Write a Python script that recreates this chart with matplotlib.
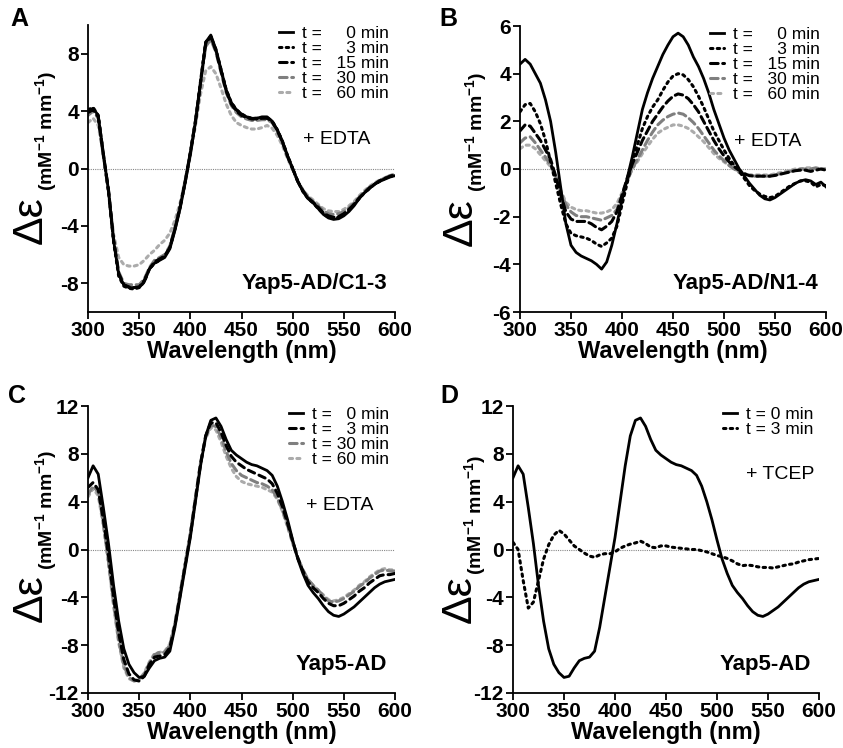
import numpy as np
import matplotlib
matplotlib.use("Agg")
import matplotlib.pyplot as plt

plt.rcParams['font.family'] = ['Liberation Sans', 'DejaVu Sans']
plt.rcParams['axes.unicode_minus'] = False
plt.rcParams['mathtext.fontset'] = 'custom'
plt.rcParams['mathtext.rm'] = 'Liberation Sans'
plt.rcParams['mathtext.bf'] = 'Liberation Sans:bold'

# wavelength grid (nm), 5 nm steps
wl = np.arange(300, 601, 5)

# Panel A: Yap5-AD/C1-3 + EDTA
a_t0 = [4.0, 4.2, 3.7, 1.0, -1.5, -5.0, -7.4, -8.1, -8.3, -8.3,
        -8.3, -7.9, -7.0, -6.6, -6.4, -6.2, -5.6, -4.3, -2.8, -1.0,
        1.0, 3.2, 6.0, 8.8, 9.3, 8.3, 6.9, 5.5, 4.6, 4.1,
        3.8, 3.6, 3.5, 3.5, 3.6, 3.6, 3.3, 2.7, 1.9, 0.9,
        0.0, -0.9, -1.6, -2.1, -2.4, -2.8, -3.2, -3.45, -3.55, -3.5,
        -3.3, -3.0, -2.6, -2.1, -1.7, -1.4, -1.1, -0.9, -0.75, -0.6, -0.5]
a_t3 = [4.1, 4.25, 3.7, 1.0, -1.6, -5.1, -7.5, -8.2, -8.35, -8.4,
        -8.3, -7.9, -7.0, -6.6, -6.4, -6.1, -5.5, -4.2, -2.7, -0.9,
        1.1, 3.3, 6.1, 8.8, 9.2, 8.3, 6.9, 5.5, 4.6, 4.1,
        3.8, 3.6, 3.5, 3.5, 3.55, 3.55, 3.3, 2.7, 1.9, 0.9,
        0.0, -0.9, -1.6, -2.1, -2.4, -2.8, -3.15, -3.4, -3.45, -3.4,
        -3.2, -2.9, -2.5, -2.1, -1.7, -1.4, -1.1, -0.9, -0.7, -0.55, -0.45]
a_t15 = [3.9, 4.1, 3.6, 1.0, -1.5, -5.0, -7.3, -8.1, -8.25, -8.3,
         -8.25, -7.8, -7.0, -6.5, -6.3, -6.1, -5.5, -4.2, -2.7, -0.9,
         1.1, 3.3, 6.0, 8.7, 9.2, 8.2, 6.8, 5.4, 4.5, 4.0,
         3.7, 3.55, 3.45, 3.45, 3.5, 3.5, 3.25, 2.65, 1.85, 0.85,
         0.0, -0.9, -1.55, -2.05, -2.35, -2.7, -3.1, -3.3, -3.4, -3.35,
         -3.15, -2.85, -2.5, -2.05, -1.7, -1.35, -1.1, -0.85, -0.7, -0.55, -0.45]
a_t30 = [3.7, 4.0, 3.5, 0.9, -1.5, -4.9, -7.2, -8.0, -8.1, -8.1,
         -8.1, -7.7, -6.9, -6.4, -6.2, -6.0, -5.4, -4.1, -2.6, -0.8,
         1.1, 3.3, 5.9, 8.5, 9.0, 8.1, 6.7, 5.3, 4.4, 3.9,
         3.6, 3.45, 3.35, 3.35, 3.4, 3.4, 3.2, 2.6, 1.8, 0.8,
         -0.05, -0.9, -1.5, -2.0, -2.3, -2.6, -2.95, -3.15, -3.2, -3.15,
         -3.0, -2.75, -2.4, -2.0, -1.65, -1.3, -1.05, -0.85, -0.65, -0.5, -0.4]
a_t60 = [3.2, 3.5, 3.0, 0.9, -1.6, -4.6, -6.2, -6.7, -6.8, -6.8,
         -6.7, -6.4, -6.0, -5.7, -5.3, -5.0, -4.5, -3.6, -2.4, -0.9,
         0.9, 3.0, 5.2, 6.8, 7.1, 6.6, 5.6, 4.5, 3.7, 3.2,
         3.0, 2.85, 2.75, 2.75, 2.85, 3.0, 2.8, 2.3, 1.6, 0.7,
         -0.1, -0.9, -1.5, -1.9, -2.2, -2.5, -2.8, -2.95, -3.0, -3.0,
         -2.85, -2.6, -2.3, -1.9, -1.55, -1.25, -1.0, -0.8, -0.65, -0.5, -0.4]

# Panel B: Yap5-AD/N1-4 + EDTA
b_t0 = [4.4, 4.6, 4.4, 4.0, 3.6, 2.9, 2.0, 0.7, -0.8, -2.3,
        -3.2, -3.5, -3.65, -3.75, -3.85, -4.0, -4.2, -3.9, -3.2, -2.3,
        -1.3, -0.4, 0.5, 1.5, 2.5, 3.2, 3.8, 4.3, 4.8, 5.2,
        5.55, 5.7, 5.55, 5.2, 4.7, 4.3, 3.8, 3.2, 2.5, 1.9,
        1.3, 0.8, 0.4, 0.0, -0.3, -0.6, -0.85, -1.1, -1.25, -1.3,
        -1.2, -1.05, -0.9, -0.75, -0.6, -0.5, -0.45, -0.5, -0.65, -0.55, -0.75]
b_t3 = [2.4, 2.7, 2.75, 2.4, 1.9, 1.2, 0.3, -0.6, -1.5, -2.3,
        -2.7, -2.8, -2.85, -2.9, -3.0, -3.15, -3.25, -3.1, -2.9, -2.4,
        -1.5, -0.6, 0.3, 1.0, 1.7, 2.2, 2.6, 2.9, 3.3, 3.65,
        3.9, 4.0, 3.95, 3.75, 3.45, 3.05, 2.6, 2.1, 1.6, 1.2,
        0.8, 0.45, 0.15, -0.1, -0.4, -0.7, -0.9, -1.05, -1.15, -1.2,
        -1.15, -1.0, -0.85, -0.7, -0.6, -0.5, -0.5, -0.55, -0.75, -0.65, -0.7]
b_t15 = [1.6, 1.85, 1.8, 1.5, 1.2, 0.8, 0.4, -0.3, -1.1, -1.8,
         -2.1, -2.2, -2.2, -2.2, -2.3, -2.45, -2.55, -2.4, -2.2, -1.8,
         -1.1, -0.4, 0.2, 0.7, 1.2, 1.6, 2.0, 2.3, 2.6, 2.85,
         3.05, 3.15, 3.1, 2.95, 2.7, 2.4, 2.0, 1.6, 1.2, 0.85,
         0.55, 0.3, 0.1, -0.05, -0.2, -0.28, -0.3, -0.3, -0.3, -0.3,
         -0.27, -0.22, -0.17, -0.12, -0.07, -0.05, -0.05, -0.1, -0.05, 0.0, -0.05]
b_t30 = [1.1, 1.3, 1.35, 1.1, 0.8, 0.5, 0.15, -0.3, -1.0, -1.5,
         -1.8, -1.95, -2.0, -2.0, -2.05, -2.1, -2.15, -2.05, -1.95, -1.7,
         -1.1, -0.5, 0.0, 0.4, 0.8, 1.2, 1.55, 1.85, 2.05, 2.2,
         2.3, 2.35, 2.3, 2.15, 1.95, 1.7, 1.4, 1.1, 0.8, 0.55,
         0.35, 0.15, 0.0, -0.15, -0.2, -0.25, -0.3, -0.3, -0.3, -0.3,
         -0.25, -0.2, -0.15, -0.1, -0.05, 0.0, 0.0, 0.0, 0.05, 0.0, 0.0]
b_t60 = [0.85, 1.0, 1.0, 0.85, 0.6, 0.35, 0.1, -0.3, -0.9, -1.4,
         -1.6, -1.7, -1.75, -1.75, -1.8, -1.85, -1.85, -1.8, -1.7, -1.45,
         -1.0, -0.5, 0.0, 0.3, 0.65, 0.95, 1.25, 1.5, 1.65, 1.75,
         1.85, 1.85, 1.8, 1.7, 1.55, 1.35, 1.15, 0.9, 0.65, 0.45,
         0.3, 0.15, 0.0, -0.1, -0.2, -0.25, -0.25, -0.25, -0.25, -0.25,
         -0.2, -0.15, -0.1, -0.05, 0.0, 0.0, 0.05, 0.05, 0.0, 0.0, 0.0]

# Panel C/D: Yap5-AD
c_t0 = [6.0, 7.0, 6.3, 3.5, 0.5, -3.0, -6.0, -8.3, -9.6, -10.3,
        -10.7, -10.6, -9.9, -9.3, -9.1, -9.0, -8.5, -6.5, -4.0, -1.5,
        1.0, 4.0, 7.0, 9.5, 10.8, 11.0, 10.3, 9.2, 8.3, 7.9,
        7.6, 7.3, 7.1, 7.0, 6.8, 6.6, 6.2, 5.3, 4.0, 2.5,
        0.8, -0.8, -2.0, -3.0, -3.6, -4.1, -4.7, -5.2, -5.5, -5.6,
        -5.4, -5.1, -4.8, -4.4, -4.0, -3.6, -3.2, -2.9, -2.7, -2.6, -2.5]
c_t3 = [5.2, 5.6, 5.0, 2.5, -0.5, -4.0, -7.0, -9.2, -10.4, -10.9,
        -11.0, -10.6, -9.6, -9.0, -8.9, -8.8, -8.2, -6.3, -3.8, -1.3,
        1.2, 4.2, 7.2, 9.5, 10.6, 10.6, 9.8, 8.7, 7.8, 7.3,
        7.0, 6.7, 6.5, 6.3, 6.1, 5.9, 5.5, 4.7, 3.6, 2.2,
        0.7, -0.7, -1.8, -2.7, -3.2, -3.6, -4.1, -4.5, -4.7, -4.7,
        -4.5, -4.2, -3.9, -3.5, -3.2, -2.8, -2.5, -2.2, -2.1, -2.1, -2.0]
c_t30 = [4.6, 5.3, 4.8, 2.2, -1.0, -4.5, -7.6, -9.7, -10.7, -11.0,
         -10.9, -10.4, -9.5, -8.8, -8.6, -8.6, -8.0, -6.2, -3.7, -1.2,
         1.3, 4.3, 7.2, 9.4, 10.4, 10.3, 9.4, 8.2, 7.2, 6.6,
         6.2, 6.0, 5.8, 5.6, 5.5, 5.3, 5.0, 4.3, 3.3, 2.0,
         0.6, -0.7, -1.7, -2.5, -3.0, -3.4, -3.9, -4.3, -4.4, -4.3,
         -4.1, -3.8, -3.5, -3.1, -2.8, -2.4, -2.1, -1.8, -1.7, -1.8, -1.8]
c_t60 = [4.4, 5.1, 4.5, 2.0, -1.2, -4.7, -7.8, -9.9, -10.8, -11.0,
         -10.9, -10.3, -9.4, -8.7, -8.6, -8.5, -7.9, -6.1, -3.6, -1.1,
         1.4, 4.4, 7.3, 9.3, 10.2, 10.0, 9.0, 7.8, 6.8, 6.1,
         5.7, 5.5, 5.4, 5.3, 5.2, 5.0, 4.8, 4.2, 3.2, 1.9,
         0.5, -0.7, -1.7, -2.5, -3.0, -3.4, -3.8, -4.2, -4.3, -4.2,
         -4.0, -3.7, -3.4, -3.0, -2.7, -2.3, -2.0, -1.7, -1.6, -1.7, -1.7]
d_t3 = [0.6, 0.0, -2.6, -4.9, -4.4, -2.6, -0.8, 0.4, 1.2, 1.6,
        1.3, 0.8, 0.3, 0.0, -0.3, -0.55, -0.65, -0.45, -0.35, -0.35,
        -0.2, 0.1, 0.3, 0.45, 0.55, 0.7, 0.5, 0.2, 0.15, 0.3,
        0.3, 0.2, 0.15, 0.1, 0.05, 0.0, 0.0, -0.1, -0.2, -0.35,
        -0.5, -0.6, -0.75, -0.95, -1.2, -1.35, -1.3, -1.35, -1.45, -1.5,
        -1.5, -1.55, -1.45, -1.35, -1.25, -1.2, -1.05, -0.95, -0.85, -0.8, -0.75]

# line styles per time point
styles = {
    't0': dict(color='black', lw=2.0, ls='-'),
    't3': dict(color='black', lw=2.2, ls=(0, (0.8, 1.4)), dash_capstyle='round'),
    't3d': dict(color='black', lw=2.2, ls=(0, (2.2, 1.6)), dash_capstyle='round'),
    't15': dict(color='black', lw=2.2, ls=(0, (2.5, 1.5)), dash_capstyle='round'),
    't30': dict(color='#7f7f7f', lw=2.2, ls=(0, (2.5, 1.5)), dash_capstyle='round'),
    't60': dict(color='#ababab', lw=2.2, ls=(0, (1.0, 1.4)), dash_capstyle='round'),
}

W, H = 843, 748
fig = plt.figure(figsize=(W / 100, H / 100), dpi=100)


def px_box(x0, y0, x1, y1):
    return [x0 / W, 1 - y1 / H, (x1 - x0) / W, (y1 - y0) / H]


def panel(box, series, ylim, yticks, note, note_xy, name, letter, letter_xy, dl_xy, unit_xy):
    ax = fig.add_axes(px_box(*box))
    for y, key, label in series[::-1]:
        ax.plot(wl, y, label=label, **styles[key])
    ax.axhline(0, color='#888888', lw=0.8, ls=(0, (1, 1)), zorder=0)
    ax.set_xlim(300, 600)
    ax.set_ylim(*ylim)
    ax.set_xticks(range(300, 601, 50))
    ax.set_yticks(yticks)
    for s in ['top', 'right']:
        ax.spines[s].set_visible(False)
    for s in ['left', 'bottom']:
        ax.spines[s].set_linewidth(1.3)
    ax.tick_params(direction='out', length=5, width=1.3, labelsize=15, pad=1.5)
    for t in ax.get_xticklabels() + ax.get_yticklabels():
        t.set_fontweight('bold')
    ax.set_xlabel('Wavelength (nm)', fontsize=17, fontweight='bold', labelpad=0)
    handles, labels = ax.get_legend_handles_labels()
    ax.legend(handles[::-1], labels[::-1], loc='upper right', bbox_to_anchor=(1.02, 1.04),
              frameon=False, fontsize=12.5, handlelength=0.8, handletextpad=0.5,
              labelspacing=0.0, borderpad=0.2)
    ax.text(note_xy[0], note_xy[1], note, transform=ax.transAxes, fontsize=14,
            ha='left', va='center')
    ax.text(0.975, 0.10, name, transform=ax.transAxes, fontsize=16, fontweight='bold',
            ha='right', va='center')
    fig.text(letter_xy[0] / W, 1 - letter_xy[1] / H, letter, fontsize=18, fontweight='bold',
             ha='center', va='center')
    fig.text(dl_xy[0] / W, 1 - dl_xy[1] / H, '\u0394\u03b5', fontsize=31,
             rotation=90, ha='center', va='center')
    fig.text(unit_xy[0] / W, 1 - unit_xy[1] / H,
             r'(mM$^{\mathbf{-1}}$ mm$^{\mathbf{-1}}$)', fontsize=14, fontweight='bold',
             rotation=90, ha='center', va='center')
    return ax


panel((88, 25, 395, 312),
      [(a_t0, 't0', 't =     0 min'), (a_t3, 't3', 't =     3 min'),
       (a_t15, 't15', 't =   15 min'), (a_t30, 't30', 't =   30 min'),
       (a_t60, 't60', 't =   60 min')],
      (-10, 10), [-8, -4, 0, 4, 8], '+ EDTA', (0.70, 0.60), 'Yap5-AD/C1-3',
      'A', (19, 19), (31, 220), (47, 131))

panel((520, 26, 826, 312),
      [(b_t0, 't0', 't =     0 min'), (b_t3, 't3', 't =     3 min'),
       (b_t15, 't15', 't =   15 min'), (b_t30, 't30', 't =   30 min'),
       (b_t60, 't60', 't =   60 min')],
      (-6, 6), [-6, -4, -2, 0, 2, 4, 6], '+ EDTA', (0.70, 0.595), 'Yap5-AD/N1-4',
      'B', (448, 19), (461, 222), (477, 132))

panel((88, 406, 395, 693),
      [(c_t0, 't0', 't =   0 min'), (c_t3, 't3d', 't =   3 min'),
       (c_t30, 't30', 't = 30 min'), (c_t60, 't60', 't = 60 min')],
      (-12, 12), [-12, -8, -4, 0, 4, 8, 12], '+ EDTA', (0.71, 0.655), 'Yap5-AD',
      'C', (17, 396), (31, 598), (47, 510))

panel((513, 406, 819, 693),
      [(c_t0, 't0', 't = 0 min'), (d_t3, 't3', 't = 3 min')],
      (-12, 12), [-12, -8, -4, 0, 4, 8, 12], '+ TCEP', (0.76, 0.76), 'Yap5-AD',
      'D', (449, 396), (460, 599), (476, 515))

fig.savefig('out.png', dpi=100)
